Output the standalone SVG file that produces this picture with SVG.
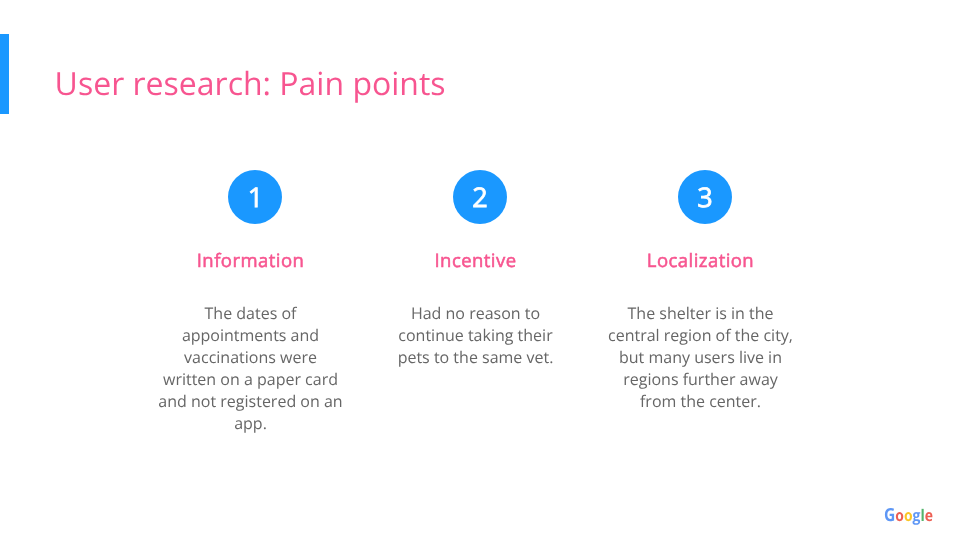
<svg xmlns="http://www.w3.org/2000/svg" width="960" height="540" viewBox="0 0 960 540">
<defs><filter id="soft" x="-5%" y="-20%" width="110%" height="140%"><feGaussianBlur stdDeviation="0.2"/></filter></defs>
<style>
text{font-family:"Open Sans","Noto Sans",sans-serif;text-rendering:geometricPrecision;filter:url(#soft)}
.c{fill:#1a98ff}
.n{fill:#fff;font-size:27px;font-weight:400;text-anchor:middle;stroke:#fff;stroke-width:.8px}
.h{fill:#f75590;font-size:18.500px;font-weight:400;letter-spacing:.45px;text-anchor:middle;stroke:#f75590;stroke-width:.55px}
.b{fill:#666;font-size:16px;text-anchor:middle}
</style>
<rect width="960" height="540" fill="#fff"/>
<rect x="0" y="34" width="9" height="80" fill="#1a98ff"/>
<text x="54.600" y="95" font-size="32" fill="#f75590">User research: Pain points</text>
<g id="node1">
<circle class="c" cx="255" cy="197" r="27"/><text class="n" x="255.600" y="207">1</text>
<text class="h" x="250.500" y="267">Information</text>
<text class="b"><tspan x="250.500" y="319">The dates of</tspan><tspan x="250.500" y="341">appointments and</tspan><tspan x="250.500" y="363">vaccinations were</tspan><tspan x="250.500" y="385">written on a paper card</tspan><tspan x="250.500" y="407">and not registered on an</tspan><tspan x="250.500" y="429">app.</tspan></text>
</g>
<g id="node2">
<circle class="c" cx="480" cy="197" r="27"/><text class="n" x="480" y="207">2</text>
<text class="h" x="475.500" y="267">Incentive</text>
<text class="b"><tspan x="475.500" y="319">Had no reason to</tspan><tspan x="475.500" y="341">continue taking their</tspan><tspan x="475.500" y="363">pets to the same vet.</tspan></text>
</g>
<g id="node3">
<circle class="c" cx="705" cy="197" r="27"/><text class="n" x="705" y="207">3</text>
<text class="h" x="700.500" y="267">Localization</text>
<text class="b"><tspan x="700.500" y="319">The shelter is in the</tspan><tspan x="700.500" y="341">central region of the city,</tspan><tspan x="700.500" y="363">but many users live in</tspan><tspan x="700.500" y="385">regions further away</tspan><tspan x="700.500" y="407">from the center.</tspan></text>
</g>
<g id="connectors"/>
<g id="logo" font-size="16" opacity=".85">
<text x="884" y="521" textLength="49" lengthAdjust="spacingAndGlyphs" font-weight="700"><tspan fill="#4285f4" font-size="18">G</tspan><tspan fill="#ea4335">o</tspan><tspan fill="#fbbc05">o</tspan><tspan fill="#4285f4">g</tspan><tspan fill="#34a853">l</tspan><tspan fill="#ea4335">e</tspan></text>
</g>
</svg>
